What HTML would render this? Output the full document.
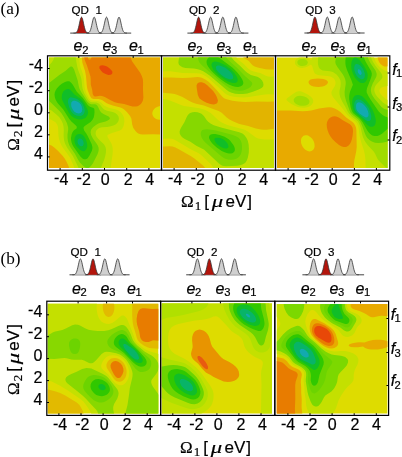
<!DOCTYPE html>
<html><head><meta charset="utf-8"><style>
html,body{margin:0;padding:0;background:#fff;}
svg{display:block;}
text{font-family:"Liberation Sans",sans-serif;stroke:#000;stroke-width:0.2px;}
.serif{font-family:"Liberation Serif",serif;}
.ns{stroke:none;}
</style></head><body>
<svg width="402" height="457" viewBox="0 0 402 457">
<rect width="402" height="457" fill="#fff"/>
<clipPath id="clip1"><rect x="49" y="57.5" width="111.00" height="110.50"/></clipPath>
<g clip-path="url(#clip1)">
<rect x="48" y="56.5" width="113.00" height="112.50" fill="#dedc00"/>
<path fill="#c4e000" fill-rule="evenodd" d="M48.6 56.4 79.3 56.4 79.5 61.4 80.0 64.9 80.7 67.7 82.8 73.4 83.5 76.2 84.0 79.8 84.5 86.2 85.0 89.0 86.3 93.0 89.2 98.4 90.6 99.9 92.0 100.6 97.7 100.9 99.9 101.7 101.3 102.7 104.1 105.4 107.0 107.1 109.8 108.1 115.9 109.6 118.4 110.5 119.8 111.4 121.0 112.4 123.0 115.2 124.1 118.1 124.4 121.6 123.6 125.9 122.2 128.7 121.2 129.7 119.2 130.8 112.0 133.0 108.4 134.4 107.5 135.1 107.3 135.8 107.7 137.2 110.6 142.0 111.7 144.3 112.4 146.4 112.7 148.5 112.8 151.4 112.5 154.9 110.4 169.1 74.6 169.1 73.5 165.6 70.0 157.8 68.2 154.9 63.4 148.5 61.6 145.7 60.0 142.2 58.9 138.6 58.4 135.1 58.1 128.0 57.9 126.5 57.1 124.4 55.7 122.5 53.6 120.9 50.7 119.4 47.9 118.4 47.9 56.4 48.6 56.4Z"/>
<path fill="#a0dc00" fill-rule="evenodd" d="M55.0 56.4 75.7 56.4 76.3 61.4 77.5 67.7 78.5 71.0 80.6 76.3 81.4 78.9 82.2 86.2 82.7 89.0 84.3 93.3 88.0 99.6 89.2 101.0 90.6 102.0 92.0 102.3 96.3 102.5 98.2 103.2 99.8 104.6 102.6 108.1 104.1 109.4 107.0 110.7 112.7 112.1 115.2 113.1 117.1 114.5 118.5 116.6 118.9 118.8 118.5 120.9 117.2 123.0 115.5 124.4 113.4 125.5 109.8 126.5 107.0 126.9 102.0 127.3 99.9 127.8 98.4 128.5 97.3 129.4 96.3 130.6 95.9 131.5 95.6 133.7 95.9 135.1 96.5 136.5 98.4 138.9 102.6 142.9 104.1 144.6 105.5 147.1 106.0 149.3 105.9 152.8 105.2 156.3 104.1 159.9 101.3 167.0 100.7 169.1 78.9 169.1 77.8 166.3 73.0 156.3 67.2 147.8 65.0 143.6 64.2 140.8 63.8 137.9 63.6 135.1 63.8 130.1 63.5 126.6 62.9 123.7 61.7 120.9 59.3 117.3 56.4 114.4 51.5 110.5 47.9 108.7 47.9 65.7 50.0 64.3 51.5 62.8 53.3 59.9 54.6 56.4 55.0 56.4Z"/>
<path fill="#6cd400" fill-rule="evenodd" d="M70.7 66.6 71.4 66.5 72.1 66.7 72.8 67.3 74.2 69.7 77.7 80.5 78.8 86.2 79.6 89.0 81.5 92.5 87.1 101.2 88.5 102.8 89.9 103.8 91.3 104.2 94.9 104.3 95.9 104.6 97.0 105.3 98.0 106.7 99.9 110.7 101.3 112.5 103.4 114.1 108.7 116.6 109.5 117.4 109.9 118.1 109.8 118.8 109.3 119.5 107.7 120.6 105.6 121.4 100.6 122.7 98.4 123.5 96.3 124.7 93.0 127.3 91.8 128.7 91.0 130.1 90.6 132.2 91.1 135.1 92.9 138.6 96.5 143.6 97.9 145.7 98.6 147.8 98.7 150.0 98.3 152.1 97.5 154.2 92.8 163.4 91.3 165.5 89.9 167.0 88.5 168.0 87.8 168.2 86.3 168.1 84.9 167.3 82.8 165.5 79.9 162.4 77.8 159.2 74.9 153.8 70.7 147.8 69.2 145.0 68.0 141.5 67.5 137.9 67.5 134.4 68.2 129.4 68.1 127.3 66.9 123.0 64.1 117.4 61.8 113.8 59.5 111.0 47.9 99.7 47.9 83.8 50.7 81.8 59.3 75.1 65.7 70.8 69.3 67.6 70.7 66.6Z"/>
<path fill="#30c800" fill-rule="evenodd" d="M67.8 81.2 69.3 81.3 70.0 81.7 71.4 82.9 72.8 84.8 76.8 91.8 82.8 98.0 87.8 105.0 89.9 106.7 93.5 107.9 94.2 108.8 94.4 109.6 94.5 112.4 94.2 115.2 93.7 117.4 92.7 119.5 90.6 121.9 84.7 125.9 83.6 127.3 83.6 128.7 84.3 130.8 86.3 133.5 87.6 135.8 91.7 144.3 92.4 147.1 92.4 148.5 91.9 150.7 89.5 155.6 87.8 158.1 87.1 158.7 85.6 159.3 84.2 159.3 82.8 158.7 80.6 156.7 73.7 147.1 72.5 145.0 71.5 142.2 71.1 140.0 71.0 137.9 71.6 134.4 72.5 132.2 73.5 130.8 74.9 129.5 76.4 128.7 76.8 127.3 76.7 126.6 75.6 125.2 71.4 121.6 69.3 119.0 63.3 109.6 58.4 103.9 56.8 101.8 55.6 99.6 54.9 97.5 54.5 94.7 54.8 92.5 55.6 90.4 57.0 88.3 59.3 85.8 62.1 83.5 65.0 81.9 66.4 81.4 67.8 81.2Z"/>
<path fill="#10be28" fill-rule="evenodd" d="M67.1 89.0 68.5 89.0 69.3 89.3 70.7 90.2 74.7 94.7 79.9 98.2 81.4 99.4 82.8 101.1 84.7 103.9 87.5 109.6 87.9 111.0 88.1 112.4 87.7 114.5 87.0 115.9 85.9 117.4 84.2 118.6 82.1 119.3 79.9 119.5 77.8 119.2 74.9 118.3 72.8 117.1 71.4 115.9 69.6 113.8 68.3 111.7 62.6 101.1 61.9 98.9 61.7 97.5 62.0 94.7 63.1 91.8 65.0 89.9 67.1 89.0ZM77.8 134.2 79.2 133.9 80.6 134.1 82.7 135.1 84.6 137.2 86.0 140.0 87.1 143.6 87.3 146.4 86.9 147.8 86.2 149.3 85.0 150.7 84.2 151.2 83.5 151.3 82.1 151.1 79.9 149.8 77.1 147.1 76.1 145.7 75.0 143.6 74.4 140.8 74.6 137.9 75.7 135.8 76.4 135.1 77.8 134.2Z"/>
<path fill="#08b468" fill-rule="evenodd" d="M70.0 97.5 70.7 97.3 72.1 97.4 74.2 98.0 77.1 99.1 79.9 100.9 82.1 103.2 83.9 106.7 84.7 110.3 84.6 111.7 84.2 113.1 83.5 114.3 82.8 115.0 81.4 115.8 79.9 116.1 77.1 115.7 74.2 114.4 72.8 113.2 71.5 111.7 70.2 109.6 69.3 107.4 68.4 104.6 68.0 102.5 68.0 101.1 68.3 99.6 69.0 98.2 70.0 97.5ZM79.2 138.5 79.9 138.4 81.4 138.8 82.6 140.0 83.4 141.5 83.7 142.9 83.6 144.3 82.9 145.7 82.1 146.2 80.6 146.2 79.7 145.7 78.5 144.5 77.8 143.2 77.5 141.5 77.7 140.0 78.5 138.9 79.2 138.5Z"/>
<path fill="#12aab0" fill-rule="evenodd" d="M72.8 101.0 73.5 100.8 74.9 100.8 77.1 101.4 79.2 102.8 80.8 104.6 81.8 106.7 82.3 109.6 81.8 111.7 80.6 112.9 79.9 113.2 78.5 113.4 76.4 112.9 74.2 111.4 72.7 109.6 71.4 106.7 71.1 103.9 71.4 102.5 72.1 101.5 72.8 101.0Z"/>
<path fill="#e8aa00" fill-rule="evenodd" d="M82.1 56.4 161.1 56.4 161.1 105.8 157.5 106.7 155.1 108.1 153.2 110.3 152.6 111.7 152.3 113.1 152.4 114.5 153.0 115.9 154.0 117.4 154.7 118.1 156.1 118.9 157.5 119.4 161.1 119.8 161.1 134.6 153.3 134.2 142.6 134.5 140.5 134.2 138.3 133.4 136.9 132.5 135.5 131.1 133.3 127.9 132.2 124.4 131.4 118.8 130.1 115.9 127.3 112.4 124.2 109.6 122.7 108.5 120.5 107.5 112.7 105.6 108.4 104.1 106.3 103.1 102.4 100.3 100.6 99.4 98.4 99.0 93.5 99.0 92.0 98.4 91.3 97.9 90.5 96.8 89.8 95.4 87.8 90.4 87.2 88.3 86.8 85.5 85.9 75.5 85.1 71.3 82.4 62.8 81.7 57.1 81.7 56.4 82.1 56.4ZM48.6 144.5 51.5 145.6 54.3 147.5 57.9 150.8 62.8 156.1 65.0 158.9 66.4 161.4 68.5 166.1 69.4 169.1 47.9 169.1 47.9 144.4 48.6 144.5Z"/>
<path fill="#e87c00" fill-rule="evenodd" d="M84.2 56.4 87.7 56.4 88.2 58.5 88.5 59.2 89.2 59.8 89.9 59.7 90.6 59.2 91.3 58.0 91.8 56.4 130.6 56.4 131.2 59.2 132.2 61.4 140.2 72.7 141.9 76.2 142.8 79.1 143.1 81.9 143.0 89.7 143.4 97.5 143.1 99.6 142.7 101.1 141.9 102.5 140.9 103.9 139.3 105.3 137.6 106.2 135.5 106.6 132.6 106.5 129.8 105.8 124.1 103.9 117.7 103.0 114.8 102.2 110.6 100.3 104.9 97.0 102.0 95.9 99.9 95.7 95.6 96.4 94.2 96.2 93.5 95.6 92.7 94.0 92.2 89.7 90.8 84.7 90.7 78.4 90.4 76.2 86.8 64.9 84.9 60.5 84.2 57.6 84.2 56.4Z"/>
<path fill="#e84808" fill-rule="evenodd" d="M100.6 65.5 102.7 65.3 104.9 65.7 107.0 66.6 109.1 67.9 111.2 69.9 112.1 71.3 112.4 72.7 112.0 74.0 110.6 74.8 108.4 74.9 105.6 74.1 102.7 72.4 100.9 70.6 99.6 68.4 99.4 67.0 99.6 66.3 100.6 65.5Z"/>
</g>
<clipPath id="clip2"><rect x="163" y="57.5" width="111.00" height="110.50"/></clipPath>
<g clip-path="url(#clip2)">
<rect x="162" y="56.5" width="113.00" height="112.50" fill="#dedc00"/>
<path fill="#c4e000" fill-rule="evenodd" d="M162.6 56.4 235.9 56.4 237.2 58.5 238.6 59.9 243.8 64.0 248.1 68.4 250.9 70.4 253.7 71.5 260.2 73.1 265.9 75.7 268.0 76.5 270.8 76.7 275.1 76.3 275.1 94.4 268.7 94.3 265.1 94.5 258.0 95.4 248.8 97.0 243.8 97.4 235.9 97.1 232.4 96.5 229.5 95.7 226.7 94.5 224.6 93.0 208.9 78.4 205.3 76.0 201.8 74.3 199.6 73.6 196.8 73.2 182.5 73.0 170.4 71.3 167.6 71.3 161.9 71.6 161.9 56.4 162.6 56.4ZM162.6 98.9 166.5 99.6 171.2 101.1 181.1 105.1 184.0 106.0 199.6 108.3 202.1 108.9 204.6 109.7 207.3 111.0 210.6 113.1 213.2 115.2 218.3 120.2 221.4 122.3 224.4 123.7 228.1 125.2 243.1 129.3 245.2 130.1 248.1 131.7 254.5 136.6 255.9 137.5 258.0 138.4 260.9 139.1 264.4 139.4 275.1 139.6 275.1 169.1 213.8 169.1 212.4 166.3 210.7 164.1 201.1 155.1 198.2 153.1 191.1 149.5 176.8 140.9 174.0 139.5 171.9 138.8 169.0 138.4 161.9 138.7 161.9 98.8 162.6 98.9Z"/>
<path fill="#86d800" fill-rule="evenodd" d="M179.7 56.4 231.2 56.4 232.3 58.5 234.1 60.6 240.5 66.3 245.2 70.9 247.3 72.8 250.9 74.9 257.3 76.8 258.7 77.4 260.2 78.4 262.1 80.5 263.1 82.6 263.5 84.7 263.2 86.2 262.7 86.9 261.6 88.0 258.7 89.6 252.9 91.8 247.3 93.4 243.1 94.0 238.8 94.1 235.2 93.7 231.7 92.8 228.8 91.5 226.7 90.1 209.6 75.6 206.0 73.0 203.2 71.3 200.3 70.0 196.8 68.9 193.9 68.5 185.4 68.0 182.5 67.2 180.8 66.3 179.2 64.9 178.8 64.2 178.4 62.8 178.6 60.6 179.5 56.4 179.7 56.4ZM192.5 112.2 194.6 112.0 197.5 112.3 199.6 112.9 201.5 113.8 203.9 115.9 206.8 120.2 208.2 121.8 210.9 123.7 213.8 125.2 221.0 127.6 239.3 132.2 242.4 133.6 244.3 135.1 246.5 137.9 247.8 140.8 248.6 144.3 248.9 148.5 248.8 152.8 247.8 157.8 246.8 160.6 245.3 162.7 243.8 163.8 242.4 164.5 240.2 165.2 237.4 165.7 226.0 166.3 223.8 166.1 222.4 165.7 221.0 165.0 218.9 163.5 206.1 151.4 203.9 149.6 201.8 148.4 196.3 145.7 190.4 141.7 184.7 139.0 182.2 137.2 180.9 135.8 179.8 133.7 179.6 131.5 180.2 129.4 181.3 127.3 184.4 122.3 186.5 117.4 187.7 115.2 189.1 113.8 190.1 113.1 192.5 112.2Z"/>
<path fill="#6cd400" fill-rule="evenodd" d="M198.2 56.4 225.7 56.4 227.0 58.5 228.8 60.6 236.9 67.7 245.2 76.2 251.6 81.9 252.3 83.3 252.1 84.7 250.5 86.9 248.6 88.3 245.9 89.6 243.1 90.4 240.2 90.7 236.7 90.6 233.1 89.8 230.2 88.5 226.0 85.8 218.9 80.3 202.1 65.6 199.6 62.8 198.5 60.6 198.0 58.5 198.2 56.4ZM204.6 129.4 206.8 129.3 209.6 129.5 216.0 130.6 232.9 135.1 235.9 136.2 238.1 137.5 239.5 138.8 240.8 140.8 241.6 142.9 242.0 145.7 242.0 149.3 241.5 152.1 240.8 154.2 239.5 156.3 238.0 157.8 235.9 158.9 233.8 159.4 231.0 159.7 228.1 159.5 226.0 158.9 223.8 158.0 221.0 156.1 206.4 143.6 203.7 140.8 202.2 138.6 201.5 137.2 200.8 135.1 200.7 133.7 200.9 132.2 201.6 130.8 202.4 130.1 204.6 129.4Z"/>
<path fill="#30c800" fill-rule="evenodd" d="M209.6 56.7 210.3 56.4 217.4 56.5 219.6 57.9 232.6 67.7 234.9 69.9 237.5 72.7 239.7 75.5 242.0 79.1 243.0 81.2 243.3 82.6 243.2 84.0 242.4 85.3 240.9 86.2 238.1 86.9 235.2 86.8 232.4 86.0 228.8 84.5 225.3 82.4 221.0 79.4 216.7 75.9 213.2 72.7 210.0 69.2 207.9 66.3 206.9 64.2 206.5 62.1 206.8 59.9 208.2 57.9 209.6 56.7ZM211.7 134.2 213.2 134.0 215.3 134.0 219.6 134.9 224.6 136.8 226.7 137.9 228.7 139.3 230.2 140.8 231.9 142.9 233.4 145.0 234.4 147.1 234.8 148.5 234.9 150.0 234.5 151.2 234.0 152.1 232.4 153.2 231.0 153.5 228.8 153.5 226.7 153.1 224.6 152.3 221.7 150.9 216.7 147.5 213.9 145.0 211.9 142.9 210.3 140.8 209.2 138.6 209.0 137.2 209.3 135.8 210.3 134.8 211.7 134.2Z"/>
<path fill="#10be28" fill-rule="evenodd" d="M213.2 61.9 214.6 61.5 216.0 61.5 219.6 62.4 225.3 65.3 230.2 68.8 234.2 72.7 236.6 76.2 237.5 78.4 237.7 79.8 237.5 81.2 237.1 81.9 235.9 82.7 233.8 83.0 231.7 82.8 229.5 82.1 227.4 81.2 224.6 79.6 218.9 75.5 214.7 71.3 213.1 69.2 212.0 67.0 211.5 65.6 211.5 64.2 212.1 62.8 213.2 61.9ZM216.0 137.8 218.1 137.7 220.3 138.1 223.1 139.3 225.1 140.8 226.6 142.2 227.9 144.3 228.5 146.4 228.1 147.8 226.7 148.6 225.3 148.6 223.8 148.3 221.0 147.1 218.0 145.0 215.9 142.9 214.7 140.8 214.4 139.3 214.7 138.6 215.3 138.0 216.0 137.8Z"/>
<path fill="#08b468" fill-rule="evenodd" d="M217.4 65.6 219.6 65.5 222.4 66.4 225.3 67.8 228.2 69.9 231.0 72.5 232.5 74.8 233.3 77.0 233.0 78.4 232.4 79.1 231.7 79.3 230.2 79.4 228.5 79.1 225.2 77.7 221.1 74.8 218.2 72.0 216.3 69.2 215.9 67.7 216.0 67.0 216.3 66.3 217.4 65.6Z"/>
<path fill="#e2b400" fill-rule="evenodd" d="M242.4 56.4 275.1 56.4 275.1 69.5 269.4 69.5 265.7 69.2 258.7 67.7 255.2 66.7 253.7 66.0 252.3 65.0 248.8 61.1 247.3 59.9 243.7 57.8 242.1 56.4 242.4 56.4ZM162.6 77.5 171.1 77.5 182.5 77.9 188.9 77.7 197.5 77.1 199.6 77.3 201.8 77.8 205.3 79.4 208.9 82.0 216.4 89.7 221.0 95.3 223.1 97.4 224.6 98.4 226.7 99.3 232.4 100.7 238.1 101.5 245.2 102.0 256.6 101.4 268.0 101.8 275.1 101.3 275.1 128.5 266.6 129.7 263.7 129.8 260.9 129.5 255.9 128.5 247.3 125.7 241.6 124.6 238.8 123.8 233.4 121.6 229.5 119.5 226.7 117.4 221.7 112.7 218.7 111.0 212.4 108.8 203.9 105.5 196.1 103.7 192.5 102.5 189.4 101.1 182.5 97.0 177.6 94.9 174.7 94.1 171.1 93.4 161.9 92.8 161.9 77.5 162.6 77.5ZM164.7 146.4 169.7 146.3 172.6 146.6 175.4 147.5 178.8 149.3 191.1 156.3 194.4 158.5 203.0 165.6 204.6 167.2 205.9 169.1 161.9 169.1 161.9 146.5 164.7 146.4Z"/>
<path fill="#e87c00" fill-rule="evenodd" d="M198.9 82.5 200.3 82.2 201.8 82.3 203.2 82.7 204.6 83.3 207.5 85.5 213.2 91.1 215.7 94.7 216.7 96.8 217.5 98.9 217.8 100.3 217.7 101.8 217.4 102.5 216.7 103.4 215.3 104.1 213.9 104.4 211.7 104.2 209.6 103.8 206.1 102.5 203.2 101.1 201.0 99.6 199.5 98.2 198.6 96.8 197.8 94.7 196.6 86.9 196.6 85.5 197.1 84.0 197.7 83.3 198.9 82.5Z"/>
</g>
<clipPath id="clip3"><rect x="277" y="57.5" width="110.50" height="110.50"/></clipPath>
<g clip-path="url(#clip3)">
<rect x="276" y="56.5" width="112.50" height="112.50" fill="#dedc00"/>
<path fill="#c4e000" fill-rule="evenodd" d="M302.1 57.1 304.2 57.3 305.7 57.6 307.1 58.2 310.6 60.1 311.3 60.0 311.9 59.2 312.6 56.4 373.9 56.4 374.4 58.5 375.6 61.4 377.3 64.2 379.4 66.7 381.5 68.6 383.6 70.0 385.8 70.9 388.6 71.3 388.6 85.9 384.4 86.6 381.5 87.6 379.9 89.0 379.5 89.7 379.3 91.1 380.1 93.3 382.4 96.1 385.8 98.9 388.6 100.3 388.6 169.1 365.7 169.1 365.4 159.2 364.8 154.2 363.8 150.0 361.6 143.6 360.4 139.3 359.6 135.8 358.7 128.7 358.2 126.6 357.4 124.5 356.6 123.0 355.3 121.5 349.6 117.0 347.0 114.5 342.5 108.6 334.9 99.6 332.8 96.8 331.7 94.7 331.4 92.5 331.8 91.1 334.7 86.2 335.5 84.0 335.5 81.9 334.7 79.8 334.0 78.8 332.8 77.7 330.5 76.5 327.6 75.9 319.1 75.2 317.3 74.8 315.7 74.1 314.9 73.4 314.0 72.0 312.2 66.3 311.3 64.8 310.6 64.7 307.1 66.8 305.7 67.3 303.5 67.8 302.1 67.9 300.0 67.7 298.6 67.2 297.2 66.4 296.2 65.6 295.2 64.2 294.9 62.8 295.2 60.6 296.2 59.2 297.9 58.0 300.0 57.3 302.1 57.1ZM296.5 91.7 298.6 91.2 300.0 91.2 301.4 91.5 306.4 93.7 308.5 94.9 310.6 96.5 312.3 98.2 313.2 100.3 313.1 102.5 311.9 104.6 309.9 106.2 307.1 107.3 304.2 107.8 300.7 107.6 297.9 107.0 294.3 105.6 291.3 103.9 287.4 101.1 286.7 100.3 286.4 99.6 286.6 98.9 287.1 98.2 293.6 93.4 296.5 91.7Z"/>
<path fill="#a0dc00" fill-rule="evenodd" d="M318.4 56.4 370.9 56.4 371.7 59.2 373.1 62.1 375.8 66.2 381.0 72.7 382.1 74.8 382.4 76.2 382.3 77.7 381.6 79.1 377.3 83.4 375.8 85.2 375.1 86.5 374.5 88.3 374.3 89.7 374.4 91.1 374.8 92.5 375.8 94.7 377.3 96.7 382.9 102.4 385.8 104.5 388.6 105.4 388.6 169.1 387.3 169.1 378.7 160.6 377.3 158.5 375.0 153.5 373.7 151.4 368.0 145.5 365.9 142.8 364.5 140.5 363.0 137.2 362.2 134.4 360.6 127.3 358.8 122.9 358.0 121.6 356.7 120.2 351.7 116.4 349.2 113.8 347.8 111.7 345.4 106.9 342.3 101.8 340.3 97.5 339.5 94.0 339.5 91.1 340.5 86.2 340.7 83.3 340.4 80.5 339.1 77.7 336.8 74.8 335.1 73.4 333.3 72.3 331.9 71.7 329.8 71.2 324.8 70.8 322.7 70.4 321.3 69.8 319.8 68.7 318.7 67.0 318.0 64.2 317.9 61.4 318.2 56.4 318.4 56.4ZM300.0 59.2 301.4 58.9 303.5 58.9 304.9 59.2 306.2 59.9 307.1 60.7 307.8 62.1 307.8 62.8 307.1 64.2 306.4 64.9 305.2 65.6 302.8 66.1 300.7 66.0 299.7 65.6 298.6 64.9 297.5 63.5 297.3 62.1 297.9 60.6 298.6 59.9 300.0 59.2ZM297.9 96.1 300.0 95.7 302.1 95.9 304.2 96.4 306.6 97.5 308.3 98.9 309.2 100.3 309.5 101.8 309.1 103.2 308.5 104.0 307.1 105.0 305.7 105.5 303.5 105.8 301.4 105.8 299.3 105.4 297.2 104.6 296.0 103.9 295.0 103.1 294.0 101.8 293.7 100.3 293.7 99.6 294.3 98.4 295.1 97.5 296.5 96.6 297.9 96.1Z"/>
<path fill="#6cd400" fill-rule="evenodd" d="M336.1 56.9 336.2 56.4 367.7 56.4 368.2 58.5 369.1 60.6 370.7 63.5 375.5 70.6 376.4 72.7 376.7 74.1 376.6 75.5 376.2 77.0 372.8 83.3 371.2 87.6 370.9 89.7 370.9 91.1 371.6 94.0 372.7 96.1 374.7 98.9 379.4 104.6 381.5 106.9 382.9 108.0 384.4 108.9 386.5 109.6 388.6 110.0 388.6 141.3 382.2 142.8 378.0 143.1 375.1 142.7 373.0 142.1 370.9 141.1 369.5 140.1 367.3 138.0 365.9 135.7 364.7 133.0 361.9 125.2 360.1 121.6 358.1 119.2 352.5 114.7 350.5 112.4 349.5 110.3 346.1 101.1 344.8 96.1 344.6 91.8 345.7 84.0 345.7 81.9 345.3 79.8 344.6 77.7 343.1 74.8 337.4 67.0 335.8 64.2 335.4 62.8 335.3 61.4 336.1 56.9Z"/>
<path fill="#30c800" fill-rule="evenodd" d="M346.1 56.4 363.7 56.4 364.5 59.2 365.8 62.1 371.2 71.3 371.8 73.4 371.7 75.5 370.6 79.1 367.0 88.3 366.6 90.4 366.7 92.5 368.4 96.1 370.5 99.6 378.7 111.4 380.8 113.6 382.9 115.2 385.1 116.4 388.6 117.7 388.6 128.1 386.5 129.7 382.0 133.7 379.4 135.2 377.3 135.9 374.4 136.0 372.3 135.4 370.2 134.0 368.8 132.5 367.3 130.6 362.6 122.3 361.1 120.2 359.1 118.1 353.8 113.8 352.7 112.4 351.6 110.3 350.7 107.4 349.6 101.8 349.2 98.9 349.2 96.1 349.5 94.0 350.0 91.8 352.9 84.7 351.5 80.5 347.0 69.9 345.8 66.3 345.4 63.5 345.4 60.6 345.7 56.4 346.1 56.4Z"/>
<path fill="#10be28" fill-rule="evenodd" d="M354.6 57.6 356.0 57.6 357.4 58.3 360.3 61.1 364.1 66.3 365.7 69.2 367.0 72.0 367.6 74.1 367.7 75.5 367.3 78.4 366.7 79.8 365.9 81.2 365.2 82.0 363.8 82.9 362.4 83.1 361.0 82.9 359.5 82.3 357.4 80.6 355.0 77.7 353.5 74.8 352.6 72.7 351.9 70.6 351.3 67.7 351.2 65.6 351.3 63.5 351.7 61.4 352.5 59.7 353.2 58.6 354.6 57.6ZM356.0 95.2 357.4 94.9 358.8 94.9 361.0 95.7 362.4 96.6 364.5 98.5 366.6 101.0 369.3 104.6 371.2 107.4 372.7 110.3 374.2 113.8 375.3 117.4 375.7 119.5 375.8 121.6 375.4 123.7 374.8 125.2 373.7 126.3 372.3 126.8 370.9 126.8 369.5 126.4 368.0 125.5 365.9 123.5 361.8 118.8 356.0 113.8 354.7 112.4 353.8 111.0 353.0 108.9 352.5 106.7 352.2 103.9 352.3 101.1 352.7 98.9 353.4 97.5 354.6 96.0 356.0 95.2Z"/>
<path fill="#08b468" fill-rule="evenodd" d="M356.0 64.1 356.7 64.0 358.1 64.2 360.3 65.6 362.4 68.0 363.8 70.6 364.8 73.4 364.9 75.5 364.4 77.7 363.8 78.5 363.1 79.0 362.4 79.2 361.0 79.2 358.8 78.1 357.0 76.2 355.4 73.4 354.4 70.6 354.1 67.7 354.6 65.6 355.3 64.6 356.0 64.1ZM357.4 99.5 358.8 99.4 360.3 99.8 363.1 101.4 366.2 104.6 368.7 108.1 370.5 112.4 371.3 115.9 371.2 118.1 370.9 119.4 370.2 120.5 369.6 120.9 368.8 121.1 367.3 120.9 365.2 119.7 358.0 113.8 356.6 112.4 355.6 111.0 354.9 109.6 354.3 107.4 354.2 103.9 354.6 102.2 355.3 100.9 356.0 100.1 357.4 99.5Z"/>
<path fill="#12aab0" fill-rule="evenodd" d="M358.8 69.2 360.3 70.1 361.4 72.0 361.7 73.4 361.5 74.1 361.0 74.8 360.3 74.9 359.5 74.5 358.8 73.8 358.1 72.7 357.7 71.3 357.8 69.9 358.1 69.4 358.8 69.2ZM358.1 102.4 358.8 102.3 360.3 102.5 362.4 103.6 364.5 105.4 366.5 108.1 367.9 111.0 368.6 113.8 368.4 115.9 368.0 116.6 367.3 117.2 365.9 117.4 363.1 116.0 359.5 113.4 357.3 111.0 356.3 108.9 356.0 106.0 356.2 104.6 356.7 103.6 357.4 102.8 358.1 102.4Z"/>
<path fill="#e8aa00" fill-rule="evenodd" d="M378.0 56.4 388.6 56.4 388.6 66.2 386.5 66.6 384.4 66.4 382.4 65.6 380.8 64.3 379.4 62.5 378.2 59.9 377.4 56.4 378.0 56.4ZM312.8 78.9 317.7 78.5 320.6 78.7 323.4 79.1 325.6 79.8 326.9 80.5 327.6 81.2 327.9 81.9 328.0 82.6 327.2 84.0 326.4 84.7 324.8 85.7 322.7 86.4 318.4 86.9 315.6 86.8 313.5 86.4 311.3 85.7 309.9 84.8 309.2 84.0 308.5 82.6 308.7 81.2 309.3 80.5 310.6 79.6 312.8 78.9ZM326.2 107.4 329.1 107.2 331.9 107.6 334.7 108.5 337.6 110.1 340.4 112.1 346.2 117.4 352.8 122.3 354.2 123.7 355.4 125.9 356.1 128.0 356.4 130.8 356.7 147.1 356.2 151.4 354.3 160.6 354.0 164.1 354.1 169.1 275.9 169.1 275.9 110.6 290.1 110.5 302.8 111.2 307.1 111.1 311.3 110.6 319.1 108.5 326.2 107.4ZM303.5 135.8 302.0 137.2 301.3 138.6 301.0 140.0 301.1 142.9 301.8 145.0 302.5 146.4 304.2 148.7 305.7 149.9 307.1 150.8 308.5 151.2 309.9 151.4 312.0 150.8 313.7 149.3 314.3 147.8 314.6 146.4 314.4 143.6 313.8 141.5 313.0 140.0 312.0 138.6 310.6 137.2 308.5 135.8 307.1 135.3 305.7 135.2 304.2 135.4 303.5 135.8Z"/>
<path fill="#e87c00" fill-rule="evenodd" d="M332.6 116.6 334.7 116.3 336.1 116.4 338.8 117.4 343.2 120.4 349.6 124.0 351.0 125.3 352.4 127.3 352.9 129.4 353.0 131.5 352.6 135.8 351.9 139.3 351.0 141.9 350.2 143.6 348.9 145.2 347.5 146.3 346.1 146.9 343.9 147.0 341.8 146.4 339.0 144.9 335.4 142.0 332.6 139.2 330.5 136.5 328.9 133.7 327.5 130.1 326.9 127.3 326.7 124.4 327.0 122.3 327.9 120.2 328.9 118.8 330.5 117.5 332.6 116.6Z"/>
</g>
<clipPath id="clip4"><rect x="47.8" y="303.8" width="110.50" height="109.70"/></clipPath>
<g clip-path="url(#clip4)">
<rect x="46.8" y="302.8" width="112.50" height="111.70" fill="#dedc00"/>
<path fill="#c4e000" fill-rule="evenodd" d="M47.4 302.7 97.0 302.7 96.6 306.2 96.7 309.7 97.4 314.0 98.6 317.5 99.9 319.8 101.6 321.7 104.0 323.1 106.2 323.8 108.4 323.9 109.8 323.7 112.6 322.7 115.1 321.0 120.4 316.4 121.8 315.6 123.3 315.4 124.0 315.7 125.4 316.8 126.8 318.6 128.2 321.5 132.5 332.3 134.9 339.3 136.0 341.4 137.2 342.8 141.7 346.7 144.5 348.8 146.6 350.0 149.5 351.2 159.4 354.2 159.4 414.6 91.5 414.6 91.1 413.2 90.1 411.1 86.4 405.4 83.6 401.8 80.7 399.2 75.2 395.6 68.3 390.7 60.2 385.7 51.7 381.6 48.8 380.7 46.7 380.3 46.7 302.7 47.4 302.7ZM109.8 355.5 107.9 356.2 106.2 357.3 104.6 359.0 103.0 361.1 101.9 363.2 101.2 365.3 101.2 366.7 101.7 368.2 103.4 370.3 106.9 373.2 108.4 374.6 112.6 380.5 115.5 383.3 117.6 384.6 119.7 385.2 121.8 385.3 123.3 384.8 125.0 383.6 126.6 381.5 128.1 378.7 128.9 375.9 129.2 373.1 129.1 371.0 128.4 368.2 127.3 365.3 125.8 362.5 124.2 360.4 122.5 358.7 120.4 357.3 118.3 356.3 115.5 355.5 112.6 355.3 109.8 355.5Z"/>
<path fill="#88d800" fill-rule="evenodd" d="M72.2 325.2 75.0 324.6 77.9 324.8 80.0 325.6 85.0 328.3 88.5 329.7 92.8 330.6 97.7 331.1 104.1 331.0 108.4 330.2 111.9 329.1 118.3 325.9 121.1 324.9 122.5 324.9 124.0 325.3 126.1 326.8 128.2 329.6 129.6 331.9 130.8 334.4 132.9 340.0 134.8 342.8 137.4 345.4 144.5 351.5 146.6 352.8 151.6 355.5 153.6 356.9 156.3 359.7 158.3 363.2 159.0 366.0 158.9 367.4 158.4 369.6 157.5 371.7 156.3 373.8 151.9 379.4 151.3 380.8 151.2 382.2 151.7 384.3 152.8 386.4 159.4 395.5 159.4 414.6 125.0 414.6 127.5 405.0 129.1 394.2 129.8 387.9 132.2 378.0 132.5 375.9 132.6 373.8 132.3 371.7 131.4 368.9 129.8 365.3 127.7 361.8 126.1 359.6 124.0 357.4 121.8 355.7 119.7 354.5 116.2 353.2 109.8 351.9 106.9 351.7 104.8 352.0 103.4 352.7 101.6 354.1 96.3 360.0 94.2 362.0 92.8 362.9 91.4 363.3 89.9 363.3 88.5 362.8 84.1 360.4 81.8 359.7 74.3 359.8 71.5 359.4 66.5 358.3 64.4 358.1 61.6 358.2 54.5 359.0 46.7 358.8 46.7 335.8 48.1 335.2 53.1 332.2 55.2 331.5 60.2 330.6 62.3 329.9 65.8 328.5 72.2 325.2ZM86.4 368.1 89.2 368.2 91.4 368.6 102.0 373.5 105.5 375.4 106.9 376.5 108.4 378.1 117.3 389.3 118.0 390.7 118.4 392.1 118.6 393.5 118.3 395.6 117.3 398.4 114.1 404.0 113.2 406.9 113.2 409.7 114.3 414.6 98.3 414.6 97.5 411.8 96.2 409.7 91.4 404.7 85.7 398.5 82.8 395.8 75.8 389.9 68.5 384.3 67.0 382.9 65.9 381.5 65.4 380.1 65.5 378.7 66.2 377.3 68.0 375.8 70.8 374.2 77.2 371.5 82.1 369.0 84.3 368.4 86.4 368.1Z"/>
<path fill="#6cd400" fill-rule="evenodd" d="M121.1 330.1 122.5 330.1 124.0 330.4 126.1 331.8 128.2 334.5 130.8 340.0 132.6 342.8 143.1 353.0 147.9 356.9 149.9 359.0 150.7 360.4 151.1 361.8 151.3 363.2 151.1 365.3 150.6 366.7 149.9 368.2 148.8 369.5 147.4 370.5 145.2 371.5 142.4 372.1 140.3 371.9 138.1 371.0 135.3 368.5 127.8 359.0 124.0 355.1 121.8 353.4 119.7 352.2 113.3 349.5 111.3 348.4 109.4 347.0 108.3 345.6 107.4 343.5 107.3 341.4 107.6 340.0 108.9 337.9 111.7 335.1 114.5 333.0 118.3 330.9 121.1 330.1ZM73.6 338.6 75.8 338.4 77.2 338.8 78.2 339.3 79.6 340.7 80.2 342.8 80.2 344.9 80.0 347.0 79.6 349.1 78.9 351.3 78.0 352.7 77.2 353.4 76.5 353.8 75.0 354.1 72.9 353.7 71.5 352.7 70.9 352.0 69.7 349.1 69.0 345.6 69.1 342.8 70.0 340.7 71.5 339.4 73.6 338.6ZM93.5 375.1 96.3 375.2 99.2 375.7 102.0 376.6 104.8 378.0 106.9 379.8 109.1 382.2 111.1 385.0 112.6 387.9 113.3 390.0 113.4 392.1 112.9 394.2 112.3 395.6 111.2 397.1 109.1 399.1 106.2 401.1 104.1 402.1 102.0 402.6 99.2 402.5 96.3 401.6 94.2 400.4 90.6 397.5 86.8 393.5 84.5 390.7 83.4 388.6 83.1 386.4 83.5 384.3 84.7 381.5 86.4 378.7 87.7 377.3 89.2 376.2 91.4 375.4 93.5 375.1Z"/>
<path fill="#30c800" fill-rule="evenodd" d="M120.4 334.3 121.8 334.1 123.3 334.3 125.4 335.5 126.8 337.1 129.0 340.7 130.5 342.8 138.0 349.9 144.7 357.6 146.1 359.7 146.7 361.8 146.4 363.9 145.2 365.6 144.5 366.1 143.1 366.6 141.0 366.8 138.8 366.3 136.0 364.8 133.2 362.5 124.0 353.0 121.1 350.7 116.0 347.0 114.7 345.6 114.0 344.2 113.8 342.8 113.9 341.4 114.6 339.3 115.4 337.9 116.9 336.3 118.6 335.1 120.4 334.3ZM95.6 379.3 98.4 379.0 102.0 379.7 104.8 381.2 106.2 382.3 107.7 383.8 109.3 386.4 109.7 387.9 109.9 389.3 109.8 390.7 109.3 392.1 107.7 394.1 106.2 395.0 104.1 395.8 102.0 396.2 99.9 396.1 97.9 395.6 96.3 394.9 94.4 393.5 92.8 391.8 91.5 390.0 90.7 387.9 90.5 386.4 90.7 384.3 91.7 382.2 92.8 380.9 94.2 379.9 95.6 379.3Z"/>
<path fill="#10be28" fill-rule="evenodd" d="M121.8 338.5 123.3 338.6 124.7 339.3 128.8 343.5 134.7 348.4 137.4 351.3 141.0 356.2 142.5 359.0 142.7 361.1 142.4 361.8 141.8 362.5 140.3 363.1 138.8 363.1 136.7 362.4 134.6 361.2 130.3 357.5 120.4 347.0 119.4 345.6 118.8 344.2 118.6 342.1 119.0 340.7 119.7 339.7 120.4 339.0 121.8 338.5ZM99.9 384.2 101.3 384.0 102.7 384.3 104.1 385.0 104.8 385.7 105.5 386.8 105.7 387.9 105.6 388.6 105.2 389.3 104.1 390.0 102.7 390.2 101.3 390.0 99.9 389.2 98.8 387.9 98.4 386.4 98.8 385.0 99.9 384.2Z"/>
<path fill="#08b468" fill-rule="evenodd" d="M124.0 343.9 125.4 344.0 126.8 344.7 132.4 348.4 134.8 350.6 136.7 352.8 138.3 355.5 139.0 357.6 138.8 359.1 138.1 359.6 137.4 359.8 135.3 359.2 133.2 357.9 130.3 355.3 126.1 350.6 124.1 347.7 123.3 345.6 123.3 344.9 123.5 344.2 124.0 343.9Z"/>
<path fill="#e2ba00" fill-rule="evenodd" d="M103.4 303.2 103.6 302.7 113.6 302.7 114.2 304.8 114.4 306.9 114.4 309.0 114.0 311.1 113.3 313.1 112.6 314.4 111.8 315.4 110.5 316.4 109.4 316.8 108.4 316.9 106.9 316.5 105.5 315.4 104.1 313.3 103.3 311.1 102.8 308.3 102.8 305.5 103.4 303.2ZM133.2 302.7 159.4 302.7 159.4 348.8 151.6 348.2 149.5 347.9 147.4 347.2 143.8 345.4 141.0 343.6 139.3 342.1 137.7 340.0 136.8 337.9 135.3 332.3 133.5 326.6 132.7 322.4 132.2 316.1 132.2 310.4 132.5 302.7 133.2 302.7ZM112.6 358.2 114.7 358.0 116.9 358.3 118.9 359.0 120.4 359.9 121.8 361.0 123.3 362.5 124.6 364.6 125.6 366.7 126.3 368.9 126.6 371.0 126.6 373.1 126.1 375.6 125.4 377.4 124.0 379.5 122.5 380.8 121.1 381.5 119.7 381.8 117.6 381.5 116.2 380.9 114.7 379.8 112.8 377.3 110.5 373.5 107.8 369.6 106.7 367.4 106.4 366.0 106.5 364.6 106.9 363.2 107.6 361.8 108.7 360.4 109.8 359.4 111.2 358.6 112.6 358.2ZM47.0 389.3 55.9 391.4 60.2 393.0 65.2 395.6 76.7 402.6 79.2 404.7 80.7 406.9 82.8 411.1 83.8 414.6 46.7 414.6 46.7 389.2 47.0 389.3Z"/>
<path fill="#e87c00" fill-rule="evenodd" d="M142.4 308.2 144.5 308.2 152.3 309.1 159.4 308.6 159.4 340.9 153.7 340.3 152.3 340.6 148.8 341.9 147.4 342.1 145.9 342.0 143.8 341.4 142.5 340.7 141.7 340.0 140.7 338.6 140.2 337.2 139.2 331.6 137.1 324.5 136.7 321.7 136.6 318.9 137.2 314.7 138.5 311.1 139.5 309.7 140.3 309.1 142.4 308.2ZM115.5 361.1 116.9 361.3 118.3 361.7 120.4 363.2 122.1 365.3 123.3 368.3 123.5 370.3 123.4 371.7 122.5 374.3 121.1 376.6 120.4 377.4 119.0 378.1 117.6 378.0 116.2 377.3 115.5 376.6 114.0 374.5 111.9 370.6 110.7 367.4 110.5 365.3 111.3 363.2 112.8 361.8 114.0 361.3 115.5 361.1Z"/>
</g>
<clipPath id="clip5"><rect x="161.8" y="303.5" width="110.20" height="110.00"/></clipPath>
<g clip-path="url(#clip5)">
<rect x="160.8" y="302.5" width="112.20" height="112.00" fill="#dedc00"/>
<path fill="#c4e000" fill-rule="evenodd" d="M161.4 302.4 273.1 302.4 273.1 414.6 260.9 414.6 261.5 384.3 261.0 373.7 261.3 370.8 262.8 364.5 262.8 362.4 262.2 361.0 260.5 359.6 255.4 357.2 252.6 355.6 248.7 352.5 246.8 350.4 245.4 348.3 244.4 346.2 242.7 340.5 242.0 339.1 240.9 337.7 238.4 335.6 234.2 333.0 232.1 331.5 230.5 329.9 225.7 324.5 219.4 318.0 217.3 316.6 215.8 316.3 213.7 316.6 209.5 318.3 206.6 319.1 202.4 319.8 195.3 320.5 191.1 321.2 178.4 324.1 174.8 325.3 171.9 327.1 170.6 328.5 169.7 329.9 169.1 331.3 168.5 333.4 168.1 337.7 168.1 341.9 168.5 345.4 169.5 348.3 171.4 351.1 172.9 352.5 174.9 353.9 184.0 358.5 186.9 360.2 190.4 362.8 195.3 366.8 198.7 370.1 201.8 373.7 210.3 385.7 212.6 389.9 213.2 392.0 213.6 394.8 213.5 397.7 213.1 400.5 212.3 403.3 211.3 405.4 209.7 407.5 207.5 409.7 200.3 414.6 160.7 414.6 160.7 302.4 161.4 302.4Z"/>
<path fill="#b0e000" fill-rule="evenodd" d="M161.4 302.4 208.8 302.4 207.7 305.2 206.1 307.3 203.8 309.1 201.5 310.2 197.5 311.4 183.3 314.9 175.3 316.5 167.1 317.8 164.9 318.5 160.7 320.4 160.7 302.4 161.4 302.4ZM223.6 302.4 269.2 302.4 269.6 306.6 270.6 311.6 271.7 315.2 273.1 318.1 273.1 332.7 272.1 334.9 271.5 337.0 270.1 346.2 269.2 348.3 267.5 350.4 266.0 351.4 264.6 352.0 263.2 352.4 261.1 352.5 259.0 352.2 257.5 351.6 256.1 350.7 255.0 349.7 253.1 346.9 250.5 339.8 249.4 337.7 248.4 336.3 245.4 333.4 237.8 328.3 235.2 326.4 232.4 323.6 229.6 320.0 226.7 315.1 224.3 309.5 223.5 306.6 223.2 304.5 223.2 302.4 223.6 302.4ZM161.4 357.2 169.2 359.5 180.5 361.9 184.7 363.3 187.6 364.9 190.9 367.3 194.8 370.8 198.1 374.4 201.1 378.6 205.6 386.4 207.2 389.9 207.8 392.7 207.8 396.3 206.8 399.8 204.9 403.3 202.4 406.0 199.6 407.7 196.0 408.8 192.5 409.2 189.0 408.8 186.1 408.0 172.0 403.1 168.5 401.5 162.8 398.7 160.7 398.0 160.7 357.0 161.4 357.2Z"/>
<path fill="#6cd400" fill-rule="evenodd" d="M229.3 302.4 265.5 302.4 266.1 310.2 268.3 320.7 268.7 323.6 268.7 325.7 268.0 329.9 265.8 337.0 264.6 341.9 263.9 343.8 263.2 344.8 261.8 345.5 260.8 345.4 259.7 344.9 258.2 343.3 255.0 337.0 252.9 334.2 250.3 332.0 239.9 325.0 237.0 322.6 234.6 320.0 231.9 315.8 229.8 310.9 229.1 308.0 228.9 305.9 228.9 302.4 229.3 302.4ZM169.2 365.2 173.4 364.9 177.0 365.2 181.2 365.9 184.0 366.8 186.1 367.8 188.4 369.4 193.9 374.4 196.5 377.2 198.9 380.5 201.2 385.0 203.1 389.2 203.8 392.0 203.8 394.8 203.1 397.5 201.9 399.8 200.0 401.9 197.5 403.5 194.6 404.2 191.1 404.0 187.6 402.8 174.8 397.5 170.6 395.2 168.5 393.7 166.6 392.0 160.7 385.5 160.7 366.9 164.8 365.9 169.2 365.2Z"/>
<path fill="#30c800" fill-rule="evenodd" d="M234.9 302.4 260.8 302.4 261.0 306.6 261.4 309.5 263.9 319.0 264.5 322.9 264.4 325.0 263.8 327.1 263.2 328.5 261.8 330.2 260.4 331.0 258.3 331.0 254.0 329.6 250.5 328.1 247.7 326.6 244.1 324.4 241.2 322.2 238.5 319.6 236.5 317.2 235.1 315.1 233.9 312.3 233.3 310.2 233.1 308.0 233.3 305.9 234.2 303.2 234.6 302.4 234.9 302.4ZM174.1 369.3 177.0 369.1 179.8 369.4 181.9 369.9 184.0 370.8 186.1 372.1 191.8 376.7 195.2 380.0 197.1 382.8 198.6 385.7 199.7 388.5 200.4 391.3 200.3 393.4 199.7 395.5 198.9 397.0 197.5 398.3 195.3 399.3 193.2 399.6 191.1 399.3 188.3 398.3 183.3 396.2 178.3 393.4 175.2 391.3 172.7 388.8 170.7 385.7 168.9 381.4 167.9 377.9 167.7 375.1 168.3 373.0 169.3 371.6 171.3 370.1 174.1 369.3Z"/>
<path fill="#10be28" fill-rule="evenodd" d="M242.7 304.5 246.2 304.7 249.1 305.6 251.2 306.8 252.6 307.9 255.4 310.9 258.3 315.2 259.2 317.2 259.9 319.3 260.2 321.5 260.0 322.9 259.4 324.3 258.7 325.0 256.8 325.8 254.7 326.0 252.6 325.6 249.8 324.7 246.9 323.3 244.1 321.4 241.3 319.0 239.2 316.7 237.7 314.4 236.9 312.3 236.6 310.2 236.7 308.8 237.3 307.3 238.7 305.9 240.6 304.9 242.7 304.5ZM178.4 373.6 181.2 373.9 184.7 375.3 190.4 379.0 192.3 380.7 193.6 382.1 195.8 385.7 196.9 389.2 197.1 391.3 196.8 392.7 196.0 393.9 195.3 394.6 193.9 395.2 191.8 395.4 189.7 395.0 186.9 394.0 184.3 392.7 181.9 391.1 179.6 389.2 177.7 387.1 176.2 385.0 175.2 382.8 174.3 380.0 174.1 377.9 174.3 376.5 175.1 375.1 176.3 374.2 178.4 373.6Z"/>
<path fill="#08b468" fill-rule="evenodd" d="M242.7 308.7 244.8 308.8 247.7 309.7 250.5 311.4 252.6 313.2 254.7 315.8 255.8 317.9 256.1 320.0 256.0 320.7 255.4 321.6 254.7 322.2 253.3 322.6 251.9 322.6 249.8 322.1 246.2 320.3 244.1 318.8 242.7 317.5 241.3 315.8 240.5 314.4 239.9 313.0 239.8 311.6 239.9 310.9 240.6 309.7 241.3 309.2 242.7 308.7ZM181.2 379.1 181.9 379.0 183.3 379.0 185.4 379.7 188.3 381.2 190.4 382.9 192.0 385.0 192.9 387.1 193.0 389.2 192.7 389.9 192.2 390.6 191.1 391.2 190.4 391.3 189.0 391.1 187.6 390.7 184.9 389.2 182.6 387.2 181.3 385.7 180.5 384.3 179.8 382.1 179.9 380.7 180.1 380.0 181.2 379.1Z"/>
<path fill="#12aab0" fill-rule="evenodd" d="M246.2 313.8 246.9 313.7 247.7 314.0 249.2 315.1 249.8 315.8 250.0 316.5 249.9 317.2 249.1 317.4 248.4 317.2 247.3 316.5 246.1 315.1 245.9 314.4 246.2 313.8Z"/>
<path fill="#e89400" fill-rule="evenodd" d="M197.5 329.9 199.6 329.6 201.7 329.9 203.8 330.7 205.9 332.2 207.6 334.2 208.8 336.3 209.8 339.1 211.1 344.0 212.3 346.7 220.0 356.0 221.5 357.5 223.3 358.9 229.3 362.0 232.8 364.2 235.0 365.9 236.9 368.0 237.9 369.4 238.8 371.6 239.2 374.4 239.1 375.8 238.5 377.2 236.8 379.3 234.9 380.5 232.8 381.3 230.7 381.8 227.9 382.0 225.7 381.8 223.6 381.4 218.0 379.1 213.7 376.9 210.2 374.7 208.1 373.8 205.9 372.4 202.2 368.7 198.2 363.7 194.9 361.0 192.9 358.9 192.0 357.4 191.4 356.0 191.0 353.9 191.2 352.5 192.6 347.6 192.6 345.4 192.1 340.5 192.2 337.0 193.0 334.2 193.9 332.4 195.3 331.0 197.5 329.9Z"/>
<path fill="#e85a10" fill-rule="evenodd" d="M198.2 355.9 199.6 356.1 201.7 357.4 203.1 358.9 205.2 361.4 206.7 363.8 207.9 366.6 208.0 368.0 207.8 368.7 207.4 369.2 206.6 369.3 205.9 369.1 204.4 368.0 202.4 366.0 199.6 362.3 198.2 360.0 197.5 358.1 197.4 356.7 198.2 355.9Z"/>
</g>
<clipPath id="clip6"><rect x="276.8" y="304" width="110.60" height="109.50"/></clipPath>
<g clip-path="url(#clip6)">
<rect x="275.8" y="303" width="112.60" height="111.50" fill="#dedc00"/>
<path fill="#c4e000" fill-rule="evenodd" d="M276.4 302.9 347.3 302.9 347.0 305.0 347.2 307.1 347.8 308.5 348.8 309.9 350.9 311.4 355.9 313.5 358.2 314.8 359.8 316.3 361.2 318.4 361.7 320.5 361.3 322.6 360.3 324.0 358.0 326.2 357.0 327.5 354.7 332.4 353.8 333.8 352.4 335.2 350.9 336.1 348.8 336.8 347.4 337.0 345.2 336.8 343.1 335.8 341.7 334.5 339.2 331.0 337.8 329.6 336.0 328.2 327.0 322.6 323.1 319.8 320.9 317.7 316.1 311.9 314.0 310.3 312.6 309.9 311.9 309.9 310.5 310.6 309.8 311.2 307.6 314.1 305.8 318.4 305.3 321.2 305.7 324.7 307.7 331.0 309.3 334.5 310.7 336.6 312.0 338.0 321.1 346.0 323.9 348.0 326.1 349.3 328.9 350.5 331.0 351.1 334.6 351.4 341.0 350.9 343.8 350.9 346.6 351.3 350.9 352.4 353.5 353.5 355.6 354.9 357.0 356.3 358.1 358.4 358.4 359.8 358.3 361.9 357.4 364.7 355.0 369.6 354.3 371.7 353.7 374.6 353.7 378.8 353.1 380.9 351.7 383.0 347.4 387.1 345.2 389.4 341.0 395.7 338.5 400.5 336.0 408.3 333.6 412.5 332.7 414.6 309.6 414.6 307.1 409.0 306.2 405.5 305.6 399.1 304.6 392.8 304.3 386.5 303.6 381.6 303.6 379.5 304.2 374.6 304.1 373.2 303.6 371.7 302.6 370.3 300.5 368.6 298.4 367.3 294.2 365.4 292.7 364.5 291.3 363.0 288.4 359.1 286.1 357.0 284.2 356.0 281.4 354.9 278.5 354.2 275.7 353.8 275.7 332.7 276.8 329.6 279.8 326.1 280.3 324.0 280.0 321.9 279.0 319.8 277.8 318.1 275.7 316.1 275.7 302.9 276.4 302.9Z"/>
<path fill="#7cd800" fill-rule="evenodd" d="M284.2 302.9 304.4 302.9 304.0 307.8 303.1 311.3 301.2 315.3 299.1 318.0 298.4 318.6 297.0 319.1 294.9 318.9 291.3 317.4 289.9 316.6 288.5 315.4 286.3 312.5 284.5 308.5 284.0 306.4 283.6 303.6 283.6 302.9 284.2 302.9ZM320.4 303.1 320.4 302.9 345.3 302.9 345.1 305.0 345.2 307.1 345.8 309.2 346.6 310.5 348.8 312.5 352.8 314.8 354.8 316.3 355.9 317.7 356.4 319.1 356.3 320.5 355.8 321.9 352.3 328.0 350.9 330.0 349.5 331.0 348.1 331.5 346.6 331.5 345.2 331.1 343.8 330.2 340.3 327.4 332.1 323.3 327.3 319.8 325.1 317.7 323.4 315.5 322.0 313.4 321.0 311.3 320.1 307.8 320.1 305.7 320.4 303.1ZM296.3 326.0 297.7 325.8 299.1 326.1 300.5 326.8 301.9 327.9 304.1 330.2 307.2 335.2 309.6 338.0 315.4 342.8 321.8 348.7 325.4 351.4 328.2 353.1 331.7 354.5 334.6 355.0 341.0 355.7 343.8 356.5 345.2 357.1 346.9 358.4 347.5 359.1 348.1 360.5 348.0 362.6 346.7 365.4 344.5 368.1 340.2 372.4 338.6 374.6 337.9 376.7 337.3 380.9 336.8 383.0 336.0 385.1 334.4 387.9 333.2 389.6 331.4 391.4 326.8 394.4 325.3 395.6 323.9 397.4 321.6 402.0 320.2 404.1 318.3 406.0 316.8 406.6 315.4 406.6 314.0 406.1 312.6 405.0 311.9 404.1 310.5 401.2 308.4 395.6 307.5 392.1 305.8 381.6 305.8 379.5 306.2 375.3 306.1 373.2 305.7 371.7 304.9 370.3 303.4 368.7 301.2 367.1 295.6 364.1 294.1 363.1 292.7 361.7 289.2 356.9 286.3 354.5 284.2 353.3 280.7 351.6 277.8 350.6 275.7 350.1 275.7 341.9 277.1 341.2 278.5 340.0 283.0 334.5 287.0 330.7 289.2 329.2 291.3 328.0 296.3 326.0Z"/>
<path fill="#6cd400" fill-rule="evenodd" d="M326.1 302.9 343.5 302.9 343.5 307.1 344.0 309.2 344.6 310.6 345.5 312.0 346.6 313.2 351.4 317.0 352.0 317.7 352.6 319.1 352.7 320.5 352.1 322.6 350.9 324.8 349.5 326.6 348.8 327.1 347.4 327.6 345.2 327.3 340.3 324.7 333.9 321.9 331.7 320.5 329.3 318.4 325.8 314.1 324.6 312.0 324.2 310.6 324.0 308.5 324.2 307.1 325.0 305.0 326.1 302.9ZM296.3 330.9 297.7 330.9 299.1 331.1 300.5 331.6 301.9 332.5 307.7 338.7 314.8 344.3 323.9 354.0 326.8 356.5 331.0 359.8 332.1 361.2 332.3 362.6 331.7 364.0 328.2 368.9 326.8 371.7 325.2 379.5 323.5 383.7 321.3 387.2 319.0 390.2 316.8 392.2 314.7 393.4 313.3 393.3 311.9 392.4 310.8 390.7 309.8 388.1 308.4 383.7 307.9 380.9 308.2 375.3 308.1 373.2 307.4 371.0 306.5 369.6 305.2 368.2 303.4 366.7 297.0 363.0 294.9 361.4 289.9 355.0 287.8 352.9 282.6 348.6 281.6 347.2 281.4 346.5 281.4 344.3 282.5 341.5 284.2 338.7 286.0 336.6 288.4 334.5 290.6 333.0 293.4 331.7 296.3 330.9Z"/>
<path fill="#30c800" fill-rule="evenodd" d="M331.0 302.9 341.6 302.9 341.9 307.8 343.0 311.3 344.5 313.9 348.3 317.7 349.2 319.1 349.4 319.8 349.4 321.2 348.8 322.6 348.1 323.4 346.6 324.1 345.2 324.0 336.7 321.1 335.3 320.4 333.3 319.1 330.6 316.3 328.2 312.7 327.7 311.3 327.5 309.9 327.9 307.8 331.0 302.9ZM295.6 334.4 297.0 334.2 298.4 334.3 300.5 335.2 301.9 336.2 307.2 340.8 313.3 345.5 315.6 347.9 318.3 351.4 321.6 356.3 323.1 359.1 323.8 361.9 323.5 364.7 319.6 374.6 317.9 382.3 316.8 384.3 315.4 385.5 314.0 385.7 313.3 385.5 312.1 384.4 311.4 383.0 310.7 380.2 311.0 376.0 310.8 373.9 310.2 371.7 308.9 369.6 307.0 367.5 305.3 366.1 298.3 361.9 296.3 360.3 294.9 358.8 287.6 349.3 286.3 347.2 285.8 345.8 285.9 343.6 286.6 341.5 287.8 339.6 289.2 338.0 291.3 336.3 293.4 335.1 295.6 334.4Z"/>
<path fill="#10be28" fill-rule="evenodd" d="M336.7 303.3 337.4 303.0 338.1 303.7 338.8 305.4 340.6 311.3 342.9 317.0 342.9 318.4 341.7 319.1 338.8 319.0 337.4 318.6 336.0 318.0 334.6 317.0 333.4 315.5 331.9 312.7 331.6 310.6 331.9 309.2 333.2 307.3 336.7 303.3ZM294.9 338.0 296.3 337.6 297.7 337.6 299.1 337.9 301.2 338.9 311.2 346.5 313.3 348.6 315.4 351.4 317.0 354.2 318.7 357.7 319.4 359.8 319.7 361.9 319.5 364.0 318.7 366.1 317.6 367.9 316.1 369.3 314.7 369.9 314.0 369.9 312.6 369.3 306.9 365.0 298.4 359.8 296.3 357.7 294.2 354.9 290.5 348.6 289.8 346.5 289.6 345.1 290.0 342.9 291.2 340.8 292.7 339.3 294.9 338.0Z"/>
<path fill="#08b468" fill-rule="evenodd" d="M296.3 342.1 297.7 341.7 299.1 341.8 301.9 342.9 307.2 346.5 309.0 348.0 311.0 350.0 312.5 352.1 313.6 354.2 315.5 359.1 315.7 360.5 315.7 361.9 315.4 362.9 314.7 363.9 313.3 364.6 311.9 364.4 310.5 363.8 301.9 359.7 299.8 358.2 297.9 356.3 296.4 354.2 295.0 351.4 294.2 349.3 293.8 347.2 293.8 345.8 294.2 344.3 295.1 342.9 296.3 342.1Z"/>
<path fill="#12aab0" fill-rule="evenodd" d="M300.5 349.2 301.9 348.8 303.4 349.1 305.1 350.0 306.8 351.4 308.3 353.5 308.7 354.9 308.7 356.3 308.2 357.0 306.9 357.5 305.5 357.4 304.1 356.9 301.9 355.6 300.5 353.8 299.9 352.1 299.8 350.6 300.5 349.2Z"/>
<path fill="#e8aa00" fill-rule="evenodd" d="M350.9 303.4 351.1 302.9 388.5 302.9 388.5 316.3 381.4 315.7 379.3 316.0 373.6 317.3 372.2 317.3 370.8 317.0 369.3 316.3 365.8 314.0 363.4 312.7 359.4 311.1 353.7 309.2 352.3 308.5 351.5 307.8 350.7 306.4 350.6 305.0 350.9 303.4ZM314.0 319.0 315.4 319.1 316.8 319.6 324.7 323.6 330.6 327.5 333.5 330.3 334.5 331.7 335.6 333.8 338.0 341.5 338.2 342.9 338.1 344.3 337.4 345.8 336.7 346.5 334.4 347.9 331.7 348.4 328.9 348.2 326.1 347.3 323.2 345.8 320.4 343.8 315.4 339.4 312.7 336.6 311.3 334.5 310.2 331.7 309.7 328.9 309.7 326.1 310.2 323.3 311.2 320.9 312.6 319.4 314.0 319.0ZM372.9 340.1 376.4 339.7 380.7 339.7 384.2 340.2 387.1 341.0 388.5 341.6 388.5 346.4 385.7 347.8 382.1 348.8 377.9 349.4 373.6 349.6 370.8 349.4 367.9 348.9 365.1 347.9 363.0 346.6 358.0 347.3 354.4 347.3 350.9 346.9 349.7 346.5 348.8 345.8 348.8 345.1 349.6 344.3 351.6 343.5 353.7 342.9 356.6 342.4 359.4 342.2 364.4 342.5 368.6 341.0 372.9 340.1ZM276.4 357.0 281.4 357.9 283.5 358.6 284.9 359.4 287.0 361.2 289.7 364.7 291.2 366.1 292.7 367.1 298.5 369.6 300.3 371.0 301.3 372.4 301.8 373.9 301.8 375.3 300.9 380.2 300.8 382.3 301.2 387.2 301.2 392.8 301.7 399.1 301.6 407.6 302.4 414.6 275.7 414.6 275.7 356.9 276.4 357.0Z"/>
<path fill="#e87c00" fill-rule="evenodd" d="M316.8 323.2 318.3 323.3 320.4 323.8 324.7 325.6 328.6 328.2 331.3 331.0 332.2 332.4 333.1 334.5 334.0 337.3 334.3 339.4 334.3 341.5 334.1 342.9 333.3 344.3 332.5 345.2 331.0 345.8 328.9 346.0 326.8 345.6 324.7 344.7 321.8 343.0 319.0 340.8 315.8 338.0 314.0 335.9 312.8 333.8 312.1 331.7 311.9 329.6 312.2 327.5 313.1 325.4 314.0 324.3 315.4 323.5 316.8 323.2ZM276.4 361.1 280.0 361.7 282.3 362.6 284.2 364.0 288.5 368.3 290.6 369.6 295.7 371.7 297.0 372.8 297.6 373.9 297.7 374.6 297.6 376.0 295.7 381.6 295.2 385.1 295.3 398.4 294.9 409.0 295.2 414.6 275.7 414.6 275.7 361.0 276.4 361.1Z"/>
<path fill="#e84808" fill-rule="evenodd" d="M317.6 326.0 319.0 325.9 320.4 326.1 323.9 327.4 326.8 329.1 328.9 331.2 330.6 333.8 331.1 335.2 331.5 337.3 331.5 340.1 331.0 341.5 330.3 342.3 328.9 342.8 327.5 342.6 326.4 342.2 318.3 337.4 315.8 335.2 314.9 333.8 314.4 332.4 314.2 331.0 314.3 329.6 314.7 328.2 315.4 327.2 316.1 326.6 317.6 326.0Z"/>
</g>
<rect x="47.5" y="55.8" width="114.00" height="114.40" fill="none" stroke="#000" stroke-width="1.2"/>
<rect x="161.5" y="55.8" width="114.00" height="114.40" fill="none" stroke="#000" stroke-width="1.2"/>
<rect x="275.5" y="55.8" width="114.30" height="114.40" fill="none" stroke="#000" stroke-width="1.2"/>
<rect x="46.8" y="301.2" width="113.80" height="114.20" fill="none" stroke="#000" stroke-width="1.2"/>
<rect x="160.6" y="301.2" width="114.20" height="114.20" fill="none" stroke="#000" stroke-width="1.2"/>
<rect x="274.8" y="301.2" width="113.80" height="114.20" fill="none" stroke="#000" stroke-width="1.2"/>
<path d="M60.1 170.2v-2.2M82.3 170.2v-2.2M104.5 170.2v-2.2M126.7 170.2v-2.2M148.9 170.2v-2.2M78.8 55.8v2.2M107.3 55.8v2.2M133.2 55.8v2.2M174.1 170.2v-2.2M196.3 170.2v-2.2M218.5 170.2v-2.2M240.7 170.2v-2.2M262.9 170.2v-2.2M192.8 55.8v2.2M221.3 55.8v2.2M247.2 55.8v2.2M288.1 170.2v-2.2M310.1 170.2v-2.2M332.2 170.2v-2.2M354.4 170.2v-2.2M376.4 170.2v-2.2M306.8 55.8v2.2M335.3 55.8v2.2M361.2 55.8v2.2M58.9 415.4v-2.2M81.0 415.4v-2.2M103.1 415.4v-2.2M125.2 415.4v-2.2M147.2 415.4v-2.2M78.1 301.2v2.2M106.6 301.2v2.2M132.5 301.2v2.2M172.8 415.4v-2.2M194.9 415.4v-2.2M216.9 415.4v-2.2M238.9 415.4v-2.2M261.0 415.4v-2.2M191.9 301.2v2.2M220.4 301.2v2.2M246.3 301.2v2.2M287.9 415.4v-2.2M310.0 415.4v-2.2M332.1 415.4v-2.2M354.2 415.4v-2.2M376.3 415.4v-2.2M306.1 301.2v2.2M334.6 301.2v2.2M360.5 301.2v2.2M47.5 68.5h2.2M47.5 90.7h2.2M47.5 112.8h2.2M47.5 134.8h2.2M47.5 156.9h2.2M46.8 314.8h2.2M46.8 336.7h2.2M46.8 358.6h2.2M46.8 380.6h2.2M46.8 402.5h2.2M389.8 73.0h-2.2M389.8 107.0h-2.2M389.8 140.0h-2.2M388.6 318.5h-2.2M388.6 352.5h-2.2M388.6 385.5h-2.2" stroke="#000" stroke-width="1" fill="none"/>
<filter id="nf" filterUnits="userSpaceOnUse" x="0" y="0" width="402" height="457"><feColorMatrix type="identity"/></filter><g filter="url(#nf)"><text transform="translate(0.4,14.0) scale(1.08,1)" x="0" y="0" font-size="16" class="serif ns">(a)</text>
<text transform="translate(0.4,264.2) scale(1.08,1)" x="0" y="0" font-size="16" class="serif ns">(b)</text>
<text x="71.39999999999999" y="14.1" font-size="11.6">QD</text>
<text x="95.39999999999999" y="14.1" font-size="11.6">1</text>
<text x="189.0" y="14.1" font-size="11.6">QD</text>
<text x="213.0" y="14.1" font-size="11.6">2</text>
<text x="305.2" y="14.1" font-size="11.6">QD</text>
<text x="329.2" y="14.1" font-size="11.6">3</text>
<text x="70.39999999999999" y="256.4" font-size="11.6">QD</text>
<text x="94.39999999999999" y="256.4" font-size="11.6">1</text>
<text x="187.10000000000002" y="256.4" font-size="11.6">QD</text>
<text x="211.10000000000002" y="256.4" font-size="11.6">2</text>
<text x="304.1" y="256.4" font-size="11.6">QD</text>
<text x="328.1" y="256.4" font-size="11.6">3</text>
<line x1="70.2" y1="33.1" x2="131.2" y2="33.1" stroke="#444" stroke-width="1"/>
<polyline points="73.50,33.09 74.00,33.08 74.50,33.05 75.00,33.00 75.50,32.88 76.00,32.66 76.50,32.28 77.00,31.66 77.50,30.72 78.00,29.37 78.50,27.62 79.00,25.49 79.50,23.16 80.00,20.86 80.50,18.89 81.00,17.57 81.50,17.10 82.00,17.57 82.50,18.89 83.00,20.86 83.50,23.16 84.00,25.49 84.50,27.62 85.00,29.37 85.50,30.72 86.00,31.66 86.50,32.28 87.00,32.66 87.50,32.88 88.00,33.00 88.50,33.05 89.00,33.08 89.50,33.09" fill="#b3150c" stroke="#333" stroke-width="0.8"/>
<polyline points="86.20,33.09 86.70,33.08 87.20,33.05 87.70,33.00 88.20,32.88 88.70,32.66 89.20,32.28 89.70,31.66 90.20,30.72 90.70,29.37 91.20,27.62 91.70,25.49 92.20,23.16 92.70,20.86 93.20,18.89 93.70,17.57 94.20,17.10 94.70,17.57 95.20,18.89 95.70,20.86 96.20,23.16 96.70,25.49 97.20,27.62 97.70,29.37 98.20,30.72 98.70,31.66 99.20,32.28 99.70,32.66 100.20,32.88 100.70,33.00 101.20,33.05 101.70,33.08 102.20,33.09" fill="#cfcfcf" stroke="#333" stroke-width="0.8"/>
<polyline points="98.50,33.09 99.00,33.08 99.50,33.05 100.00,33.00 100.50,32.88 101.00,32.66 101.50,32.28 102.00,31.66 102.50,30.72 103.00,29.37 103.50,27.62 104.00,25.49 104.50,23.16 105.00,20.86 105.50,18.89 106.00,17.57 106.50,17.10 107.00,17.57 107.50,18.89 108.00,20.86 108.50,23.16 109.00,25.49 109.50,27.62 110.00,29.37 110.50,30.72 111.00,31.66 111.50,32.28 112.00,32.66 112.50,32.88 113.00,33.00 113.50,33.05 114.00,33.08 114.50,33.09" fill="#cfcfcf" stroke="#333" stroke-width="0.8"/>
<polyline points="111.00,33.09 111.50,33.08 112.00,33.05 112.50,33.00 113.00,32.88 113.50,32.66 114.00,32.28 114.50,31.66 115.00,30.72 115.50,29.37 116.00,27.62 116.50,25.49 117.00,23.16 117.50,20.86 118.00,18.89 118.50,17.57 119.00,17.10 119.50,17.57 120.00,18.89 120.50,20.86 121.00,23.16 121.50,25.49 122.00,27.62 122.50,29.37 123.00,30.72 123.50,31.66 124.00,32.28 124.50,32.66 125.00,32.88 125.50,33.00 126.00,33.05 126.50,33.08 127.00,33.09" fill="#cfcfcf" stroke="#333" stroke-width="0.8"/>
<line x1="187.4" y1="33.1" x2="248.4" y2="33.1" stroke="#444" stroke-width="1"/>
<polyline points="190.60,33.09 191.10,33.08 191.60,33.05 192.10,33.00 192.60,32.88 193.10,32.66 193.60,32.28 194.10,31.66 194.60,30.72 195.10,29.37 195.60,27.62 196.10,25.49 196.60,23.16 197.10,20.86 197.60,18.89 198.10,17.57 198.60,17.10 199.10,17.57 199.60,18.89 200.10,20.86 200.60,23.16 201.10,25.49 201.60,27.62 202.10,29.37 202.60,30.72 203.10,31.66 203.60,32.28 204.10,32.66 204.60,32.88 205.10,33.00 205.60,33.05 206.10,33.08 206.60,33.09" fill="#b3150c" stroke="#333" stroke-width="0.8"/>
<polyline points="202.60,33.09 203.10,33.08 203.60,33.05 204.10,33.00 204.60,32.88 205.10,32.66 205.60,32.28 206.10,31.66 206.60,30.72 207.10,29.37 207.60,27.62 208.10,25.49 208.60,23.16 209.10,20.86 209.60,18.89 210.10,17.57 210.60,17.10 211.10,17.57 211.60,18.89 212.10,20.86 212.60,23.16 213.10,25.49 213.60,27.62 214.10,29.37 214.60,30.72 215.10,31.66 215.60,32.28 216.10,32.66 216.60,32.88 217.10,33.00 217.60,33.05 218.10,33.08 218.60,33.09" fill="#cfcfcf" stroke="#333" stroke-width="0.8"/>
<polyline points="214.80,33.09 215.30,33.08 215.80,33.05 216.30,33.00 216.80,32.88 217.30,32.66 217.80,32.28 218.30,31.66 218.80,30.72 219.30,29.37 219.80,27.62 220.30,25.49 220.80,23.16 221.30,20.86 221.80,18.89 222.30,17.57 222.80,17.10 223.30,17.57 223.80,18.89 224.30,20.86 224.80,23.16 225.30,25.49 225.80,27.62 226.30,29.37 226.80,30.72 227.30,31.66 227.80,32.28 228.30,32.66 228.80,32.88 229.30,33.00 229.80,33.05 230.30,33.08 230.80,33.09" fill="#cfcfcf" stroke="#333" stroke-width="0.8"/>
<polyline points="227.90,33.09 228.40,33.08 228.90,33.05 229.40,33.00 229.90,32.88 230.40,32.66 230.90,32.28 231.40,31.66 231.90,30.72 232.40,29.37 232.90,27.62 233.40,25.49 233.90,23.16 234.40,20.86 234.90,18.89 235.40,17.57 235.90,17.10 236.40,17.57 236.90,18.89 237.40,20.86 237.90,23.16 238.40,25.49 238.90,27.62 239.40,29.37 239.90,30.72 240.40,31.66 240.90,32.28 241.40,32.66 241.90,32.88 242.40,33.00 242.90,33.05 243.40,33.08 243.90,33.09" fill="#cfcfcf" stroke="#333" stroke-width="0.8"/>
<line x1="304.4" y1="33.0" x2="364.6" y2="33.0" stroke="#444" stroke-width="1"/>
<polyline points="306.90,32.99 307.40,32.98 307.90,32.95 308.40,32.90 308.90,32.78 309.40,32.56 309.90,32.18 310.40,31.56 310.90,30.62 311.40,29.27 311.90,27.52 312.40,25.39 312.90,23.06 313.40,20.76 313.90,18.79 314.40,17.47 314.90,17.00 315.40,17.47 315.90,18.79 316.40,20.76 316.90,23.06 317.40,25.39 317.90,27.52 318.40,29.27 318.90,30.62 319.40,31.56 319.90,32.18 320.40,32.56 320.90,32.78 321.40,32.90 321.90,32.95 322.40,32.98 322.90,32.99" fill="#b3150c" stroke="#333" stroke-width="0.8"/>
<polyline points="319.30,32.99 319.80,32.98 320.30,32.95 320.80,32.90 321.30,32.78 321.80,32.56 322.30,32.18 322.80,31.56 323.30,30.62 323.80,29.27 324.30,27.52 324.80,25.39 325.30,23.06 325.80,20.76 326.30,18.79 326.80,17.47 327.30,17.00 327.80,17.47 328.30,18.79 328.80,20.76 329.30,23.06 329.80,25.39 330.30,27.52 330.80,29.27 331.30,30.62 331.80,31.56 332.30,32.18 332.80,32.56 333.30,32.78 333.80,32.90 334.30,32.95 334.80,32.98 335.30,32.99" fill="#cfcfcf" stroke="#333" stroke-width="0.8"/>
<polyline points="331.30,32.99 331.80,32.98 332.30,32.95 332.80,32.90 333.30,32.78 333.80,32.56 334.30,32.18 334.80,31.56 335.30,30.62 335.80,29.27 336.30,27.52 336.80,25.39 337.30,23.06 337.80,20.76 338.30,18.79 338.80,17.47 339.30,17.00 339.80,17.47 340.30,18.79 340.80,20.76 341.30,23.06 341.80,25.39 342.30,27.52 342.80,29.27 343.30,30.62 343.80,31.56 344.30,32.18 344.80,32.56 345.30,32.78 345.80,32.90 346.30,32.95 346.80,32.98 347.30,32.99" fill="#cfcfcf" stroke="#333" stroke-width="0.8"/>
<polyline points="344.20,32.99 344.70,32.98 345.20,32.95 345.70,32.90 346.20,32.78 346.70,32.56 347.20,32.18 347.70,31.56 348.20,30.62 348.70,29.27 349.20,27.52 349.70,25.39 350.20,23.06 350.70,20.76 351.20,18.79 351.70,17.47 352.20,17.00 352.70,17.47 353.20,18.79 353.70,20.76 354.20,23.06 354.70,25.39 355.20,27.52 355.70,29.27 356.20,30.62 356.70,31.56 357.20,32.18 357.70,32.56 358.20,32.78 358.70,32.90 359.20,32.95 359.70,32.98 360.20,32.99" fill="#cfcfcf" stroke="#333" stroke-width="0.8"/>
<line x1="69.5" y1="274.8" x2="129.6" y2="274.8" stroke="#444" stroke-width="1"/>
<polyline points="72.40,274.79 72.90,274.78 73.40,274.75 73.90,274.70 74.40,274.58 74.90,274.36 75.40,273.98 75.90,273.36 76.40,272.42 76.90,271.07 77.40,269.32 77.90,267.19 78.40,264.86 78.90,262.56 79.40,260.59 79.90,259.27 80.40,258.80 80.90,259.27 81.40,260.59 81.90,262.56 82.40,264.86 82.90,267.19 83.40,269.32 83.90,271.07 84.40,272.42 84.90,273.36 85.40,273.98 85.90,274.36 86.40,274.58 86.90,274.70 87.40,274.75 87.90,274.78 88.40,274.79" fill="#cfcfcf" stroke="#333" stroke-width="0.8"/>
<polyline points="85.00,274.79 85.50,274.78 86.00,274.75 86.50,274.70 87.00,274.58 87.50,274.36 88.00,273.98 88.50,273.36 89.00,272.42 89.50,271.07 90.00,269.32 90.50,267.19 91.00,264.86 91.50,262.56 92.00,260.59 92.50,259.27 93.00,258.80 93.50,259.27 94.00,260.59 94.50,262.56 95.00,264.86 95.50,267.19 96.00,269.32 96.50,271.07 97.00,272.42 97.50,273.36 98.00,273.98 98.50,274.36 99.00,274.58 99.50,274.70 100.00,274.75 100.50,274.78 101.00,274.79" fill="#b3150c" stroke="#333" stroke-width="0.8"/>
<polyline points="96.80,274.79 97.30,274.78 97.80,274.75 98.30,274.70 98.80,274.58 99.30,274.36 99.80,273.98 100.30,273.36 100.80,272.42 101.30,271.07 101.80,269.32 102.30,267.19 102.80,264.86 103.30,262.56 103.80,260.59 104.30,259.27 104.80,258.80 105.30,259.27 105.80,260.59 106.30,262.56 106.80,264.86 107.30,267.19 107.80,269.32 108.30,271.07 108.80,272.42 109.30,273.36 109.80,273.98 110.30,274.36 110.80,274.58 111.30,274.70 111.80,274.75 112.30,274.78 112.80,274.79" fill="#cfcfcf" stroke="#333" stroke-width="0.8"/>
<polyline points="109.70,274.79 110.20,274.78 110.70,274.75 111.20,274.70 111.70,274.58 112.20,274.36 112.70,273.98 113.20,273.36 113.70,272.42 114.20,271.07 114.70,269.32 115.20,267.19 115.70,264.86 116.20,262.56 116.70,260.59 117.20,259.27 117.70,258.80 118.20,259.27 118.70,260.59 119.20,262.56 119.70,264.86 120.20,267.19 120.70,269.32 121.20,271.07 121.70,272.42 122.20,273.36 122.70,273.98 123.20,274.36 123.70,274.58 124.20,274.70 124.70,274.75 125.20,274.78 125.70,274.79" fill="#cfcfcf" stroke="#333" stroke-width="0.8"/>
<line x1="186.2" y1="274.8" x2="245.9" y2="274.8" stroke="#444" stroke-width="1"/>
<polyline points="189.40,274.79 189.90,274.78 190.40,274.75 190.90,274.70 191.40,274.58 191.90,274.36 192.40,273.98 192.90,273.36 193.40,272.42 193.90,271.07 194.40,269.32 194.90,267.19 195.40,264.86 195.90,262.56 196.40,260.59 196.90,259.27 197.40,258.80 197.90,259.27 198.40,260.59 198.90,262.56 199.40,264.86 199.90,267.19 200.40,269.32 200.90,271.07 201.40,272.42 201.90,273.36 202.40,273.98 202.90,274.36 203.40,274.58 203.90,274.70 204.40,274.75 204.90,274.78 205.40,274.79" fill="#cfcfcf" stroke="#333" stroke-width="0.8"/>
<polyline points="201.30,274.79 201.80,274.78 202.30,274.75 202.80,274.70 203.30,274.58 203.80,274.36 204.30,273.98 204.80,273.36 205.30,272.42 205.80,271.07 206.30,269.32 206.80,267.19 207.30,264.86 207.80,262.56 208.30,260.59 208.80,259.27 209.30,258.80 209.80,259.27 210.30,260.59 210.80,262.56 211.30,264.86 211.80,267.19 212.30,269.32 212.80,271.07 213.30,272.42 213.80,273.36 214.30,273.98 214.80,274.36 215.30,274.58 215.80,274.70 216.30,274.75 216.80,274.78 217.30,274.79" fill="#b3150c" stroke="#333" stroke-width="0.8"/>
<polyline points="213.50,274.79 214.00,274.78 214.50,274.75 215.00,274.70 215.50,274.58 216.00,274.36 216.50,273.98 217.00,273.36 217.50,272.42 218.00,271.07 218.50,269.32 219.00,267.19 219.50,264.86 220.00,262.56 220.50,260.59 221.00,259.27 221.50,258.80 222.00,259.27 222.50,260.59 223.00,262.56 223.50,264.86 224.00,267.19 224.50,269.32 225.00,271.07 225.50,272.42 226.00,273.36 226.50,273.98 227.00,274.36 227.50,274.58 228.00,274.70 228.50,274.75 229.00,274.78 229.50,274.79" fill="#cfcfcf" stroke="#333" stroke-width="0.8"/>
<polyline points="226.70,274.79 227.20,274.78 227.70,274.75 228.20,274.70 228.70,274.58 229.20,274.36 229.70,273.98 230.20,273.36 230.70,272.42 231.20,271.07 231.70,269.32 232.20,267.19 232.70,264.86 233.20,262.56 233.70,260.59 234.20,259.27 234.70,258.80 235.20,259.27 235.70,260.59 236.20,262.56 236.70,264.86 237.20,267.19 237.70,269.32 238.20,271.07 238.70,272.42 239.20,273.36 239.70,273.98 240.20,274.36 240.70,274.58 241.20,274.70 241.70,274.75 242.20,274.78 242.70,274.79" fill="#cfcfcf" stroke="#333" stroke-width="0.8"/>
<line x1="302.4" y1="274.8" x2="364.1" y2="274.8" stroke="#444" stroke-width="1"/>
<polyline points="305.60,274.79 306.10,274.78 306.60,274.75 307.10,274.70 307.60,274.58 308.10,274.36 308.60,273.98 309.10,273.36 309.60,272.42 310.10,271.07 310.60,269.32 311.10,267.19 311.60,264.86 312.10,262.56 312.60,260.59 313.10,259.27 313.60,258.80 314.10,259.27 314.60,260.59 315.10,262.56 315.60,264.86 316.10,267.19 316.60,269.32 317.10,271.07 317.60,272.42 318.10,273.36 318.60,273.98 319.10,274.36 319.60,274.58 320.10,274.70 320.60,274.75 321.10,274.78 321.60,274.79" fill="#cfcfcf" stroke="#333" stroke-width="0.8"/>
<polyline points="318.00,274.79 318.50,274.78 319.00,274.75 319.50,274.70 320.00,274.58 320.50,274.36 321.00,273.98 321.50,273.36 322.00,272.42 322.50,271.07 323.00,269.32 323.50,267.19 324.00,264.86 324.50,262.56 325.00,260.59 325.50,259.27 326.00,258.80 326.50,259.27 327.00,260.59 327.50,262.56 328.00,264.86 328.50,267.19 329.00,269.32 329.50,271.07 330.00,272.42 330.50,273.36 331.00,273.98 331.50,274.36 332.00,274.58 332.50,274.70 333.00,274.75 333.50,274.78 334.00,274.79" fill="#b3150c" stroke="#333" stroke-width="0.8"/>
<polyline points="330.00,274.79 330.50,274.78 331.00,274.75 331.50,274.70 332.00,274.58 332.50,274.36 333.00,273.98 333.50,273.36 334.00,272.42 334.50,271.07 335.00,269.32 335.50,267.19 336.00,264.86 336.50,262.56 337.00,260.59 337.50,259.27 338.00,258.80 338.50,259.27 339.00,260.59 339.50,262.56 340.00,264.86 340.50,267.19 341.00,269.32 341.50,271.07 342.00,272.42 342.50,273.36 343.00,273.98 343.50,274.36 344.00,274.58 344.50,274.70 345.00,274.75 345.50,274.78 346.00,274.79" fill="#cfcfcf" stroke="#333" stroke-width="0.8"/>
<polyline points="342.90,274.79 343.40,274.78 343.90,274.75 344.40,274.70 344.90,274.58 345.40,274.36 345.90,273.98 346.40,273.36 346.90,272.42 347.40,271.07 347.90,269.32 348.40,267.19 348.90,264.86 349.40,262.56 349.90,260.59 350.40,259.27 350.90,258.80 351.40,259.27 351.90,260.59 352.40,262.56 352.90,264.86 353.40,267.19 353.90,269.32 354.40,271.07 354.90,272.42 355.40,273.36 355.90,273.98 356.40,274.36 356.90,274.58 357.40,274.70 357.90,274.75 358.40,274.78 358.90,274.79" fill="#cfcfcf" stroke="#333" stroke-width="0.8"/>
<text x="73.6" y="51.0" font-size="16" font-style="italic">e</text><text x="82.19999999999999" y="53.6" font-size="11.2">2</text>
<text x="102.4" y="51.0" font-size="16" font-style="italic">e</text><text x="111.0" y="53.6" font-size="11.2">3</text>
<text x="128.9" y="51.0" font-size="16" font-style="italic">e</text><text x="137.5" y="53.6" font-size="11.2">1</text>
<text x="187.6" y="51.0" font-size="16" font-style="italic">e</text><text x="196.2" y="53.6" font-size="11.2">2</text>
<text x="216.4" y="51.0" font-size="16" font-style="italic">e</text><text x="225.0" y="53.6" font-size="11.2">3</text>
<text x="242.9" y="51.0" font-size="16" font-style="italic">e</text><text x="251.5" y="53.6" font-size="11.2">1</text>
<text x="301.6" y="51.0" font-size="16" font-style="italic">e</text><text x="310.20000000000005" y="53.6" font-size="11.2">2</text>
<text x="330.4" y="51.0" font-size="16" font-style="italic">e</text><text x="339.0" y="53.6" font-size="11.2">3</text>
<text x="356.9" y="51.0" font-size="16" font-style="italic">e</text><text x="365.5" y="53.6" font-size="11.2">1</text>
<text x="72.0" y="293.8" font-size="16" font-style="italic">e</text><text x="80.6" y="296.40000000000003" font-size="11.2">2</text>
<text x="100.6" y="293.8" font-size="16" font-style="italic">e</text><text x="109.19999999999999" y="296.40000000000003" font-size="11.2">3</text>
<text x="127.0" y="293.8" font-size="16" font-style="italic">e</text><text x="135.6" y="296.40000000000003" font-size="11.2">1</text>
<text x="186.5" y="293.8" font-size="16" font-style="italic">e</text><text x="195.1" y="296.40000000000003" font-size="11.2">2</text>
<text x="215.6" y="293.8" font-size="16" font-style="italic">e</text><text x="224.2" y="296.40000000000003" font-size="11.2">3</text>
<text x="241.7" y="293.8" font-size="16" font-style="italic">e</text><text x="250.29999999999998" y="296.40000000000003" font-size="11.2">1</text>
<text x="300.8" y="293.8" font-size="16" font-style="italic">e</text><text x="309.40000000000003" y="296.40000000000003" font-size="11.2">2</text>
<text x="329.4" y="293.8" font-size="16" font-style="italic">e</text><text x="338.0" y="296.40000000000003" font-size="11.2">3</text>
<text x="355.5" y="293.8" font-size="16" font-style="italic">e</text><text x="364.1" y="296.40000000000003" font-size="11.2">1</text>
<text x="392.3" y="74.6" font-size="16" font-style="italic">f</text><text x="395.9" y="77.0" font-size="11.2">1</text>
<text x="392.3" y="108.9" font-size="16" font-style="italic">f</text><text x="395.9" y="111.3" font-size="11.2">3</text>
<text x="392.3" y="141.2" font-size="16" font-style="italic">f</text><text x="395.9" y="143.6" font-size="11.2">2</text>
<text x="390.8" y="319.8" font-size="16" font-style="italic">f</text><text x="394.4" y="322.2" font-size="11.2">1</text>
<text x="390.8" y="354.1" font-size="16" font-style="italic">f</text><text x="394.4" y="356.5" font-size="11.2">3</text>
<text x="390.8" y="386.4" font-size="16" font-style="italic">f</text><text x="394.4" y="388.8" font-size="11.2">2</text>
<text x="43.0" y="71.1" font-size="16" text-anchor="end"><tspan dy="-1.8">-</tspan><tspan dy="1.8">4</tspan></text>
<text x="43.0" y="93.1" font-size="16" text-anchor="end"><tspan dy="-1.8">-</tspan><tspan dy="1.8">2</tspan></text>
<text x="43.0" y="115.1" font-size="16" text-anchor="end">0</text>
<text x="43.0" y="136.9" font-size="16" text-anchor="end">2</text>
<text x="43.0" y="158.7" font-size="16" text-anchor="end">4</text>
<text x="42.3" y="317.2" font-size="16" text-anchor="end"><tspan dy="-1.8">-</tspan><tspan dy="1.8">4</tspan></text>
<text x="42.3" y="339.2" font-size="16" text-anchor="end"><tspan dy="-1.8">-</tspan><tspan dy="1.8">2</tspan></text>
<text x="42.3" y="361.2" font-size="16" text-anchor="end">0</text>
<text x="42.3" y="383.2" font-size="16" text-anchor="end">2</text>
<text x="42.3" y="405.2" font-size="16" text-anchor="end">4</text>
<text x="61.2" y="184.6" font-size="16" text-anchor="middle"><tspan dy="-1.8">-</tspan><tspan dy="1.8">4</tspan></text>
<text x="83.7" y="184.6" font-size="16" text-anchor="middle"><tspan dy="-1.8">-</tspan><tspan dy="1.8">2</tspan></text>
<text x="105.3" y="184.6" font-size="16" text-anchor="middle">0</text>
<text x="128.3" y="184.6" font-size="16" text-anchor="middle">2</text>
<text x="149.6" y="184.6" font-size="16" text-anchor="middle">4</text>
<text x="175.2" y="184.6" font-size="16" text-anchor="middle"><tspan dy="-1.8">-</tspan><tspan dy="1.8">4</tspan></text>
<text x="197.7" y="184.6" font-size="16" text-anchor="middle"><tspan dy="-1.8">-</tspan><tspan dy="1.8">2</tspan></text>
<text x="219.3" y="184.6" font-size="16" text-anchor="middle">0</text>
<text x="242.3" y="184.6" font-size="16" text-anchor="middle">2</text>
<text x="263.6" y="184.6" font-size="16" text-anchor="middle">4</text>
<text x="289.2" y="184.6" font-size="16" text-anchor="middle"><tspan dy="-1.8">-</tspan><tspan dy="1.8">4</tspan></text>
<text x="311.7" y="184.6" font-size="16" text-anchor="middle"><tspan dy="-1.8">-</tspan><tspan dy="1.8">2</tspan></text>
<text x="333.3" y="184.6" font-size="16" text-anchor="middle">0</text>
<text x="356.3" y="184.6" font-size="16" text-anchor="middle">2</text>
<text x="377.6" y="184.6" font-size="16" text-anchor="middle">4</text>
<text x="60.0" y="430.4" font-size="16" text-anchor="middle"><tspan dy="-1.8">-</tspan><tspan dy="1.8">4</tspan></text>
<text x="82.4" y="430.4" font-size="16" text-anchor="middle"><tspan dy="-1.8">-</tspan><tspan dy="1.8">2</tspan></text>
<text x="104.2" y="430.4" font-size="16" text-anchor="middle">0</text>
<text x="127.0" y="430.4" font-size="16" text-anchor="middle">2</text>
<text x="148.4" y="430.4" font-size="16" text-anchor="middle">4</text>
<text x="174.0" y="430.4" font-size="16" text-anchor="middle"><tspan dy="-1.8">-</tspan><tspan dy="1.8">4</tspan></text>
<text x="196.4" y="430.4" font-size="16" text-anchor="middle"><tspan dy="-1.8">-</tspan><tspan dy="1.8">2</tspan></text>
<text x="218.2" y="430.4" font-size="16" text-anchor="middle">0</text>
<text x="241.0" y="430.4" font-size="16" text-anchor="middle">2</text>
<text x="262.4" y="430.4" font-size="16" text-anchor="middle">4</text>
<text x="288.0" y="430.4" font-size="16" text-anchor="middle"><tspan dy="-1.8">-</tspan><tspan dy="1.8">4</tspan></text>
<text x="310.4" y="430.4" font-size="16" text-anchor="middle"><tspan dy="-1.8">-</tspan><tspan dy="1.8">2</tspan></text>
<text x="332.2" y="430.4" font-size="16" text-anchor="middle">0</text>
<text x="355.0" y="430.4" font-size="16" text-anchor="middle">2</text>
<text x="376.4" y="430.4" font-size="16" text-anchor="middle">4</text>
<text x="181.1" y="206.8" font-size="17" class="serif">Ω</text><text x="194.8" y="209.8" font-size="13" class="serif">1</text><text x="204.3" y="206.8" font-size="17">[</text><text transform="translate(211.8,206.8) scale(1.3,1)" x="0" y="0" font-size="17.5" class="serif" font-style="italic">μ</text><text x="225.4" y="206.8" font-size="17">e</text><text x="234.9" y="206.8" font-size="17">V</text><text x="247.3" y="206.8" font-size="17">]</text>
<text x="180.1" y="452.5" font-size="17" class="serif">Ω</text><text x="193.8" y="455.5" font-size="13" class="serif">1</text><text x="203.3" y="452.5" font-size="17">[</text><text transform="translate(210.8,452.5) scale(1.3,1)" x="0" y="0" font-size="17.5" class="serif" font-style="italic">μ</text><text x="224.4" y="452.5" font-size="17">e</text><text x="233.9" y="452.5" font-size="17">V</text><text x="246.3" y="452.5" font-size="17">]</text>
<g transform="translate(18.6,149.7) rotate(-90)"><text x="-1.1" y="0" font-size="17" class="serif">Ω</text><text x="12.6" y="3.0" font-size="13" class="serif">2</text><text x="22.1" y="0" font-size="17">[</text><text transform="translate(29.6,0) scale(1.3,1)" x="0" y="0" font-size="17.5" class="serif" font-style="italic">μ</text><text x="43.2" y="0" font-size="17">e</text><text x="52.7" y="0" font-size="17">V</text><text x="65.1" y="0" font-size="17">]</text></g>
<g transform="translate(18.6,393.9) rotate(-90)"><text x="-1.1" y="0" font-size="17" class="serif">Ω</text><text x="12.6" y="3.0" font-size="13" class="serif">2</text><text x="22.1" y="0" font-size="17">[</text><text transform="translate(29.6,0) scale(1.3,1)" x="0" y="0" font-size="17.5" class="serif" font-style="italic">μ</text><text x="43.2" y="0" font-size="17">e</text><text x="52.7" y="0" font-size="17">V</text><text x="65.1" y="0" font-size="17">]</text></g></g>
</svg>
</body></html>
